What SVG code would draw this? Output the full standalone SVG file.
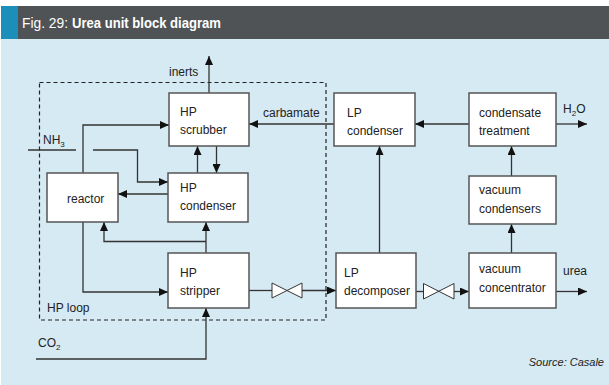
<svg xmlns="http://www.w3.org/2000/svg" width="609" height="385" viewBox="0 0 609 385">
<defs>
<marker id="ah" markerUnits="userSpaceOnUse" markerWidth="9" markerHeight="8" refX="9" refY="4" orient="auto">
<path d="M0,0 L9,4 L0,8 Z" fill="#111"/>
</marker>
<style>
.box{fill:#fff;stroke:#555;stroke-width:1.5}
.ln{fill:none;stroke:#333;stroke-width:1.3}
.ar{fill:none;stroke:#333;stroke-width:1.3;marker-end:url(#ah)}
.t{font-family:"Liberation Sans",Arial,sans-serif;font-size:12px;fill:#222}
.sub{font-size:8px}
.valve{fill:#fff;stroke:#333;stroke-width:1}
</style>
</defs>
<rect x="0" y="0" width="609" height="385" fill="#fff"/>
<rect x="1" y="39" width="608" height="346" fill="#d6eaf4"/>
<rect x="1" y="6" width="608" height="33" fill="#4f5355"/>
<rect x="1" y="6" width="17" height="33" fill="#1b8fb9"/>
<text x="22" y="28" font-family="'Liberation Sans',Arial,sans-serif" font-size="15" fill="#fff" textLength="46" lengthAdjust="spacingAndGlyphs">Fig. 29:</text>
<text x="72" y="28" font-family="'Liberation Sans',Arial,sans-serif" font-size="15" font-weight="bold" fill="#fff" textLength="149" lengthAdjust="spacingAndGlyphs">Urea unit block diagram</text>

<rect x="39.5" y="82.5" width="286.5" height="237.5" fill="none" stroke="#222" stroke-width="1.2" stroke-dasharray="4,3"/>
<text class="t" x="47" y="312">HP loop</text>

<g id="connectors">
<line class="ar" x1="209" y1="93" x2="209" y2="56"/>
<line class="ar" x1="334" y1="124" x2="249" y2="124"/>
<line class="ar" x1="197.5" y1="173" x2="197.5" y2="146"/>
<line class="ar" x1="216.5" y1="146" x2="216.5" y2="173"/>
<line class="ln" x1="28" y1="150" x2="76" y2="150"/>
<polyline class="ar" points="93,150 137.5,150 137.5,182 168,182"/>
<polyline class="ar" points="83,173 83,125 169,125"/>
<line class="ar" x1="168" y1="194" x2="118" y2="194"/>
<line class="ar" x1="206" y1="253" x2="206" y2="222"/>
<polyline class="ar" points="206,241.5 104,241.5 104,222"/>
<polyline class="ar" points="83,222 83,292 168,292"/>
<polyline class="ar" points="36,359 206,359 206,308"/>
<line class="ln" x1="249" y1="290.5" x2="272" y2="290.5"/>
<line class="ar" x1="302" y1="290.5" x2="336" y2="290.5"/>
<line class="ar" x1="379.5" y1="253" x2="379.5" y2="146"/>
<line class="ln" x1="416" y1="291.5" x2="423.5" y2="291.5"/>
<line class="ar" x1="454" y1="291.5" x2="469" y2="291.5"/>
<line class="ar" x1="511.5" y1="253" x2="511.5" y2="224"/>
<line class="ar" x1="511.5" y1="176" x2="511.5" y2="146"/>
<line class="ar" x1="469" y1="124" x2="415" y2="124"/>
<line class="ar" x1="556" y1="124" x2="587" y2="124"/>
<line class="ar" x1="556" y1="291.5" x2="587" y2="291.5"/>
<path class="valve" d="M272,283 L272,298 L302,283 L302,298 Z"/>
<path class="valve" d="M423.5,283.5 L423.5,299 L454,283.5 L454,299 Z"/>
</g>

<text class="t" x="169" y="76">inerts</text>
<text class="t" x="263" y="117">carbamate</text>
<text class="t" x="43" y="144">NH<tspan class="sub" dy="3">3</tspan></text>
<text class="t" x="38" y="347">CO<tspan class="sub" dy="3">2</tspan></text>
<text class="t" x="563" y="113">H<tspan class="sub" dy="3">2</tspan><tspan dy="-3">O</tspan></text>
<text class="t" x="563" y="275">urea</text>
<text x="604" y="366" text-anchor="end" font-family="'Liberation Sans',Arial,sans-serif" font-size="11" font-style="italic" fill="#222">Source: Casale</text>

<g id="hp-scrubber"><rect class="box" x="169" y="93" width="80" height="53"/><text class="t" x="180" y="116">HP</text><text class="t" x="180" y="134">scrubber</text></g>
<g id="hp-condenser"><rect class="box" x="168" y="173" width="80" height="49"/><text class="t" x="180" y="192">HP</text><text class="t" x="180" y="210">condenser</text></g>
<g id="reactor"><rect class="box" x="47" y="173" width="71" height="49"/><text class="t" x="67" y="203">reactor</text></g>
<g id="hp-stripper"><rect class="box" x="168" y="253" width="81" height="55"/><text class="t" x="180" y="277">HP</text><text class="t" x="180" y="295">stripper</text></g>
<g id="lp-condenser"><rect class="box" x="334" y="93" width="81" height="53"/><text class="t" x="347" y="117">LP</text><text class="t" x="347" y="135">condenser</text></g>
<g id="lp-decomposer"><rect class="box" x="336" y="253" width="80" height="55"/><text class="t" x="344" y="277">LP</text><text class="t" x="344" y="295">decomposer</text></g>
<g id="condensate-treatment"><rect class="box" x="469" y="93" width="87" height="53"/><text class="t" x="479" y="117">condensate</text><text class="t" x="479" y="135">treatment</text></g>
<g id="vacuum-condensers"><rect class="box" x="469" y="176" width="87" height="48"/><text class="t" x="479" y="194">vacuum</text><text class="t" x="479" y="213">condensers</text></g>
<g id="vacuum-concentrator"><rect class="box" x="469" y="253" width="87" height="55"/><text class="t" x="479" y="273">vacuum</text><text class="t" x="479" y="292">concentrator</text></g>
</svg>
